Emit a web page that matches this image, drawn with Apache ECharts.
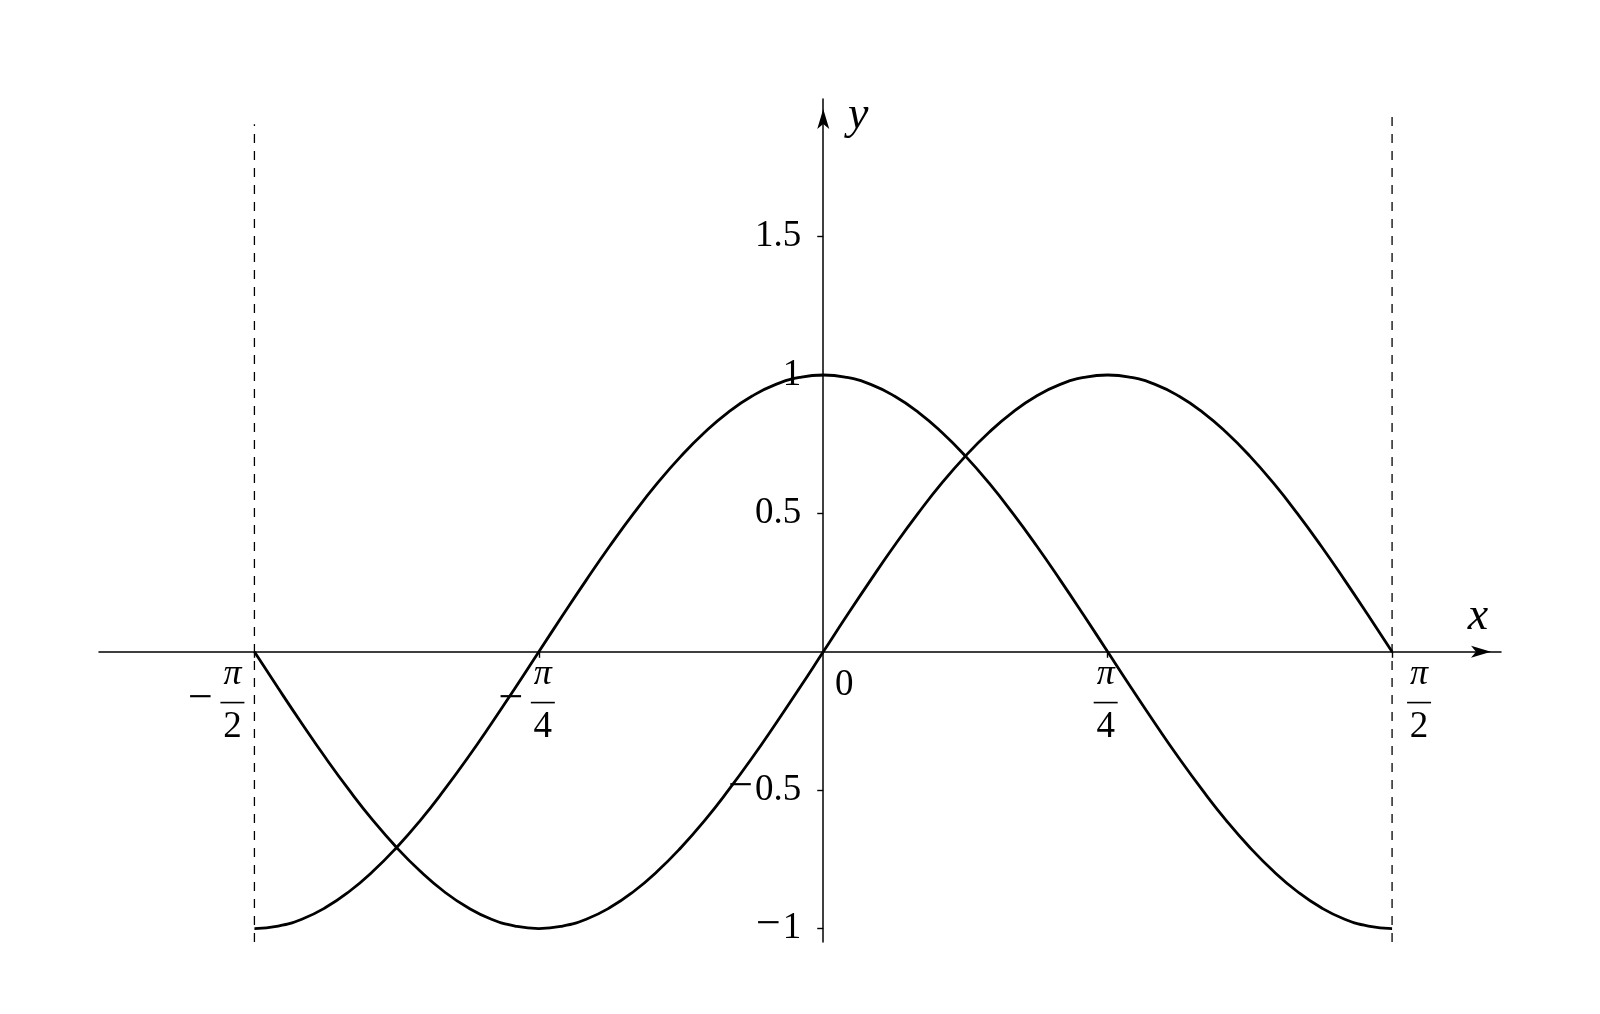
<!DOCTYPE html>
<html><head><meta charset="utf-8">
<script src="https://cdn.jsdelivr.net/npm/echarts@6/dist/echarts.min.js"></script>
<style>html,body{margin:0;padding:0;background:#fff}#c{width:1600px;height:1014px}</style>
</head><body><div id="c"></div>
<script>
// sample positions (x, radians) and curve values
const xSamples = [-1.5708, -1.5053, -1.4399, -1.3744, -1.3090, -1.2435, -1.1781, -1.1126, -1.0472, -0.9817,
                  -0.9163, -0.8508, -0.7854, -0.7199, -0.6545, -0.5890, -0.5236, -0.4581, -0.3927, -0.3272,
                  -0.2618, -0.1963, -0.1309, -0.0654, 0,
                  0.0654, 0.1309, 0.1963, 0.2618, 0.3272, 0.3927, 0.4581, 0.5236, 0.5890, 0.6545,
                  0.7199, 0.7854, 0.8508, 0.9163, 0.9817, 1.0472, 1.1126, 1.1781, 1.2435, 1.3090,
                  1.3744, 1.4399, 1.5053, 1.5708];
const cosValues = [-1, -0.991, -0.966, -0.924, -0.866, -0.793, -0.707, -0.609, -0.5, -0.383,
                   -0.259, -0.131, 0, 0.131, 0.259, 0.383, 0.5, 0.609, 0.707, 0.793,
                   0.866, 0.924, 0.966, 0.991, 1,
                   0.991, 0.966, 0.924, 0.866, 0.793, 0.707, 0.609, 0.5, 0.383, 0.259,
                   0.131, 0, -0.131, -0.259, -0.383, -0.5, -0.609, -0.707, -0.793, -0.866,
                   -0.924, -0.966, -0.991, -1];
const sinValues = [0, -0.131, -0.259, -0.383, -0.5, -0.609, -0.707, -0.793, -0.866, -0.924,
                   -0.966, -0.991, -1, -0.991, -0.966, -0.924, -0.866, -0.793, -0.707, -0.609,
                   -0.5, -0.383, -0.259, -0.131, 0,
                   0.131, 0.259, 0.383, 0.5, 0.609, 0.707, 0.793, 0.866, 0.924, 0.966,
                   0.991, 1, 0.991, 0.966, 0.924, 0.866, 0.793, 0.707, 0.609, 0.5,
                   0.383, 0.259, 0.131, 0];
const yTickValues = [-1, -0.5, 0.5, 1, 1.5];
const xTickValues = [-1.5708, -0.7854, 0.7854, 1.5708];
const xTickSign = ['−', '−', '', ''];
const xTickNum = ['π', 'π', 'π', 'π'];
const xTickDen = ['2', '4', '4', '2'];
const dashX = [-1.5708, 1.5708];
const dashTop = [1.906, 1.933];
const xRange = [-2.0, 1.8716];
const yRange = [-1.0484, 1.997];

// styling
const FONT = '"Liberation Serif", "DejaVu Serif", serif';
const xLabelDx = [-22, 4, -2, 27];
const LABEL_SIZE = 37;
const MINUS_SIZE = 44;

const mctx = document.createElement('canvas').getContext('2d');
mctx.font = LABEL_SIZE + 'px ' + FONT;

const chart = echarts.init(document.getElementById('c'), null, {renderer: 'canvas'});

function txt(text, x, y, size, italic, align) {
  return {type: 'text', silent: true, style: {
    text: text, x: x, y: y, fill: '#000',
    font: (italic ? 'italic ' : '') + size + 'px ' + FONT,
    align: align || 'center', verticalAlign: 'middle'
  }};
}

function renderTickLabel(params, api) {
  const i = params.dataIndex;
  const p = api.coord([api.value(0), 0]);
  const cx = p[0] + xLabelDx[i];
  const y0 = p[1];
  const children = [
    txt(xTickNum[i], cx, y0 + 23, 36, true),
    {type: 'rect', silent: true, shape: {x: cx - 12, y: y0 + 50, width: 24, height: 1.6}, style: {fill: '#000'}},
    txt(xTickDen[i], cx, y0 + 75, LABEL_SIZE, false)
  ];
  if (xTickSign[i]) children.push(txt(xTickSign[i], cx - 32, y0 + 47.5, MINUS_SIZE, false));
  return {type: 'group', children: children};
}

function renderYLabel(params, api) {
  const v = api.value(1);
  const p = api.coord([0, v]);
  const right = p[0] - 22;
  const s = String(Math.abs(v));
  const children = [txt(s, right, p[1], LABEL_SIZE, false, 'right')];
  if (v < 0) {
    const w = mctx.measureText(s).width;
    children.push(txt('−', right - w - 2, p[1] - 3, MINUS_SIZE, false, 'right'));
  }
  return {type: 'group', children: children};
}

function renderAxisNames(params, api) {
  const o = api.coord([0, 0]);
  const xe = api.coord([xRange[1], 0]);
  const ye = api.coord([0, yRange[1]]);
  return {type: 'group', children: [
    txt('0', o[0] + 21, o[1] + 33, LABEL_SIZE, false),
    txt('x', xe[0] - 23, xe[1] - 35, 46, true),
    txt('y', ye[0] + 35, ye[1] + 17, 46, true)
  ]};
}

const axisLineStyle = {color: '#000', width: 1.5};

const option = {
  animation: false,
  backgroundColor: '#fff',
  grid: {left: 99, right: 99, top: 99, bottom: 72, containLabel: false, outerBoundsMode: 'none'},
  xAxis: {
    type: 'value', min: xRange[0], max: xRange[1],
    axisLine: {onZero: true, symbol: ['none', 'arrow'], symbolSize: [9, 20], symbolOffset: [0, -10], lineStyle: axisLineStyle},
    axisTick: {show: true, customValues: xTickValues, length: 6, lineStyle: {color: '#000', width: 1.4}},
    axisLabel: {show: false},
    splitLine: {show: false}
  },
  yAxis: {
    type: 'value', min: yRange[0], max: yRange[1],
    axisLine: {onZero: true, symbol: ['none', 'arrow'], symbolSize: [9, 20], symbolOffset: [0, -10], lineStyle: axisLineStyle},
    axisTick: {show: true, customValues: yTickValues, length: 6, lineStyle: {color: '#000', width: 1.4}},
    axisLabel: {show: false},
    splitLine: {show: false}
  },
  series: [
    {type: 'line', silent: true, symbol: 'none', data: [[dashX[0], yRange[0]], [dashX[0], dashTop[0]]],
     lineStyle: {color: '#000', width: 1.3, type: [9, 8]}, z: 1},
    {type: 'line', silent: true, symbol: 'none', data: [[dashX[1], yRange[0]], [dashX[1], dashTop[1]]],
     lineStyle: {color: '#000', width: 1.3, type: [9, 8]}, z: 1},
    {type: 'line', silent: true, symbol: 'none', smooth: true,
     data: xSamples.map(function (x, i) { return [x, cosValues[i]]; }),
     lineStyle: {color: '#000', width: 2.8}, z: 3},
    {type: 'line', silent: true, symbol: 'none', smooth: true,
     data: xSamples.map(function (x, i) { return [x, sinValues[i]]; }),
     lineStyle: {color: '#000', width: 2.8}, z: 3},
    {type: 'custom', silent: true, renderItem: renderTickLabel,
     data: xTickValues.map(function (v) { return [v, 0]; }), z: 4},
    {type: 'custom', silent: true, renderItem: renderYLabel,
     data: yTickValues.map(function (v) { return [0, v]; }), z: 4},
    {type: 'custom', silent: true, renderItem: renderAxisNames, data: [[0, 0]], z: 4}
  ]
};
chart.setOption(option);
</script>
</body></html>
